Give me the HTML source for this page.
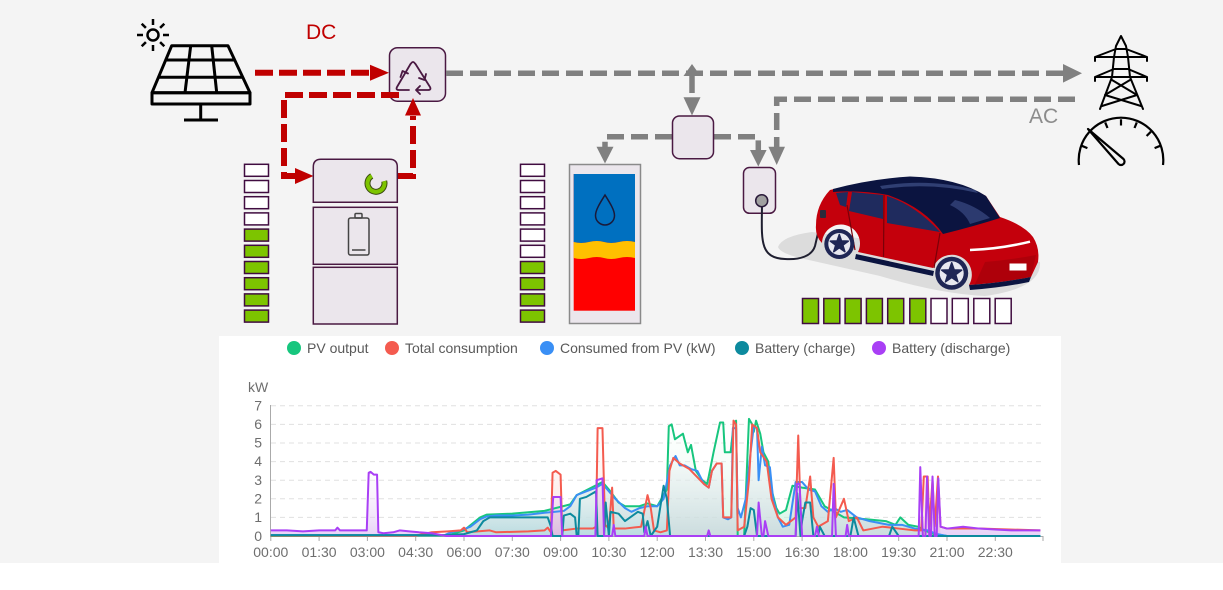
<!DOCTYPE html>
<html><head><meta charset="utf-8"><style>
html,body{margin:0;padding:0;background:#fff;}
body{width:1223px;height:590px;overflow:hidden;}
svg{display:block;font-family:"Liberation Sans",sans-serif;}
</style></head><body>
<svg width="1223" height="590" viewBox="0 0 1223 590" xmlns="http://www.w3.org/2000/svg">
<defs>
<linearGradient id="gb" x1="0" y1="0" x2="0" y2="1"><stop offset="0" stop-color="#c8d2dc" stop-opacity="0.7"/><stop offset="1" stop-color="#ffffff" stop-opacity="0.2"/></linearGradient>
<linearGradient id="gp" x1="0" y1="0" x2="0" y2="1"><stop offset="0" stop-color="#d9b3f2" stop-opacity="0.6"/><stop offset="1" stop-color="#ffffff" stop-opacity="0.2"/></linearGradient>
<linearGradient id="gr" x1="0" y1="0" x2="0" y2="1"><stop offset="0" stop-color="#f7b3ad" stop-opacity="0.5"/><stop offset="1" stop-color="#ffffff" stop-opacity="0.2"/></linearGradient>
<linearGradient id="gg" x1="0" y1="0" x2="0" y2="1"><stop offset="0" stop-color="#b8ecd2" stop-opacity="0.6"/><stop offset="1" stop-color="#ffffff" stop-opacity="0.2"/></linearGradient>
<linearGradient id="gt" x1="0" y1="0" x2="0" y2="1"><stop offset="0" stop-color="#a8dbe2" stop-opacity="0.5"/><stop offset="1" stop-color="#ffffff" stop-opacity="0.2"/></linearGradient>
</defs>
<rect x="0" y="0" width="1223" height="563" fill="#f4f4f4"/>

<!-- Sun -->
<g stroke="#000" stroke-width="2.5" fill="none" stroke-linecap="butt">
<circle cx="153" cy="35" r="5.5"/>
<line x1="153" y1="19" x2="153" y2="25"/><line x1="153" y1="45" x2="153" y2="51"/>
<line x1="137" y1="35" x2="143" y2="35"/><line x1="163" y1="35" x2="169" y2="35"/>
<line x1="141.7" y1="23.7" x2="145.9" y2="27.9"/><line x1="160.1" y1="42.1" x2="164.3" y2="46.3"/>
<line x1="164.3" y1="23.7" x2="160.1" y2="27.9"/><line x1="145.9" y1="42.1" x2="141.7" y2="46.3"/>
</g>
<!-- Solar panel -->
<g stroke="#000" stroke-width="3" fill="none" stroke-linejoin="round">
<path d="M171.7,45.7 L228,45.7 L250,92.7 L152,92.7 Z"/>
<line x1="165.7" y1="60" x2="234.7" y2="60"/>
<line x1="158.5" y1="77.3" x2="242.8" y2="77.3"/>
<line x1="190.7" y1="45.7" x2="185" y2="92.7"/>
<line x1="211.7" y1="45.7" x2="216.7" y2="92.7"/>
<rect x="152" y="92.7" width="98" height="11.3"/>
<line x1="200.7" y1="104" x2="200.7" y2="120"/>
<line x1="184" y1="120" x2="218" y2="120"/>
</g>
<text x="306" y="39" font-size="21" fill="#c00000">DC</text>

<!-- Inverter -->
<rect x="389.5" y="47.7" width="56" height="53.5" rx="8" fill="#ebe6ec" stroke="#4a1942" stroke-width="1.5"/>
<g stroke="#4a1942" stroke-width="1.8" fill="none" stroke-linecap="round" stroke-linejoin="round">
<path d="M410.5,64 L397,87 Q395.5,90 399,90 L409,90"/>
<path d="M415.5,64 L430,87 Q431.5,90 428,90 L417,90"/>
<path d="M411,63.5 Q413,60.5 415,63.5"/>
<path d="M400.5,77 L402.5,71 L408,73.5"/>
<path d="M419,78 L424.5,80 L426,74"/>
<path d="M420,86 L416,90 L420,94"/>
</g>

<!-- Red DC connectors -->
<g stroke="#c00000" stroke-width="6" fill="none" stroke-dasharray="18 6">
<path d="M255,72.7 L372,72.7"/>
<path d="M399,95 L284,95 L284,176 L297,176"/>
<path d="M397,176 L413,176 L413,116"/>
</g>
<g fill="#c00000">
<polygon points="370,64.7 389,72.7 370,80.7"/>
<polygon points="295,168 313.5,176 295,184"/>
<polygon points="405,115.5 413,98 421,115.5"/>
</g>

<!-- Battery stack -->
<path d="M313.3,202.3 L313.3,167 Q313.3,159.3 321,159.3 L389.5,159.3 Q397.3,159.3 397.3,167 L397.3,202.3 Z" fill="#ebe6ec" stroke="#4a1942" stroke-width="1.5"/>
<path d="M371.75,175.94 A8.5,8.5 0 1 0 384.2,181.1" fill="none" stroke="#3a4a10" stroke-width="6" stroke-linecap="butt"/>
<path d="M371.75,175.94 A8.5,8.5 0 1 0 384.2,181.1" fill="none" stroke="#7dc400" stroke-width="4" stroke-linecap="butt"/>
<rect x="313.3" y="207.3" width="84" height="57" fill="#ebe6ec" stroke="#4a1942" stroke-width="1.5"/>
<g stroke="#444" stroke-width="1.5" fill="none">
<rect x="348.5" y="218" width="20.5" height="37" rx="2"/>
<rect x="355" y="213.5" width="7" height="4.5" rx="1"/>
<line x1="352" y1="250" x2="365.5" y2="250"/>
</g>
<rect x="313.3" y="267.3" width="84" height="56.7" fill="#ebe6ec" stroke="#4a1942" stroke-width="1.5"/>

<!-- Level bars battery -->
<g stroke="#400c40" stroke-width="1.5">
<rect x="244.5" y="164.3" width="24" height="12" fill="#fff"/>
<rect x="244.5" y="180.5" width="24" height="12" fill="#fff"/>
<rect x="244.5" y="196.7" width="24" height="12" fill="#fff"/>
<rect x="244.5" y="212.9" width="24" height="12" fill="#fff"/>
<rect x="244.5" y="229.1" width="24" height="12" fill="#7dc400"/>
<rect x="244.5" y="245.3" width="24" height="12" fill="#7dc400"/>
<rect x="244.5" y="261.5" width="24" height="12" fill="#7dc400"/>
<rect x="244.5" y="277.7" width="24" height="12" fill="#7dc400"/>
<rect x="244.5" y="293.9" width="24" height="12" fill="#7dc400"/>
<rect x="244.5" y="310.1" width="24" height="12" fill="#7dc400"/>
</g>
<!-- Level bars tank -->
<g stroke="#400c40" stroke-width="1.5">
<rect x="520.5" y="164.3" width="24" height="12" fill="#fff"/>
<rect x="520.5" y="180.5" width="24" height="12" fill="#fff"/>
<rect x="520.5" y="196.7" width="24" height="12" fill="#fff"/>
<rect x="520.5" y="212.9" width="24" height="12" fill="#fff"/>
<rect x="520.5" y="229.1" width="24" height="12" fill="#fff"/>
<rect x="520.5" y="245.3" width="24" height="12" fill="#fff"/>
<rect x="520.5" y="261.5" width="24" height="12" fill="#7dc400"/>
<rect x="520.5" y="277.7" width="24" height="12" fill="#7dc400"/>
<rect x="520.5" y="293.9" width="24" height="12" fill="#7dc400"/>
<rect x="520.5" y="310.1" width="24" height="12" fill="#7dc400"/>
</g>

<!-- Tank -->
<rect x="569.5" y="164.5" width="71" height="159" fill="#ebe6ec" stroke="#8a8a8a" stroke-width="1.5"/>
<rect x="573.7" y="174" width="61.3" height="136.7" fill="#ff0000"/>
<path d="M573.7,174 L635,174 L635,242 Q627,240 619,242 T604,242 T589,242 T573.7,242 Z" fill="#0070c0"/>
<path d="M573.7,242 Q581,244 589,242 T604,242 T619,242 T635,242 L635,258 Q627,256 619,258 T604,258 T589,258 T573.7,258 Z" fill="#ffc000"/>
<path d="M605,195 C600,203 595.5,210 595.5,215.5 A9.5,9.5 0 0 0 614.5,215.5 C614.5,210 610,203 605,195 Z" fill="none" stroke="#1a1a3a" stroke-width="1.5"/>

<!-- Gray AC connectors -->
<g stroke="#808080" stroke-width="5.5" fill="none" stroke-dasharray="17 7">
<path d="M446,73.3 L1064,73.3"/>
<path d="M692,76 L692,98"/>
<path d="M672,136.7 L605,136.7 L605,147"/>
<path d="M714,136.7 L758.3,136.7 L758.3,150"/>
<path d="M1075,99.3 L776.7,99.3 L776.7,147"/>
</g>
<g fill="#808080">
<polygon points="1063,64 1082,73.3 1063,82.6"/>
<polygon points="683.5,76 692,64 700.5,76"/>
<polygon points="683.5,97.3 692,115.5 700.5,97.3"/>
<polygon points="596.5,146.7 605,163.5 613.5,146.7"/>
<polygon points="750,150 758.3,166.5 766.6,150"/>
<polygon points="768.4,146.7 776.7,165 785,146.7"/>
</g>
<text x="1029" y="123" font-size="21" fill="#8c8c8c">AC</text>

<!-- Distributor box -->
<rect x="672.5" y="116" width="41" height="42.7" rx="7" fill="#ebe6ec" stroke="#4a1942" stroke-width="1.5"/>
<!-- Charger -->
<rect x="743.5" y="167.5" width="32" height="45.8" rx="6" fill="#ebe6ec" stroke="#4a1942" stroke-width="1.5"/>

<!-- Pylon -->
<g stroke="#000" stroke-width="2" fill="none" stroke-linejoin="round" stroke-linecap="round">
<path d="M1100,109 L1112,77 L1114,57 L1116,46 L1121,36 L1126,46 L1128,57 L1130,77 L1143,109"/>
<path d="M1095,61 L1095,57 L1147,57 L1147,61 M1095,57 L1116,49 L1126,49 L1147,57"/>
<path d="M1095,81 L1095,77 L1147,77 L1147,81 M1095,77 L1114,69 L1128,69 L1147,77"/>
<path d="M1112,80 L1137,95 M1130,80 L1105,95 M1105,95 L1141,106 M1137,95 L1102,106"/>
</g>
<!-- Gauge -->
<g stroke="#000" stroke-width="2.2" fill="none" stroke-linecap="butt">
<path d="M1079,165 A42.3,42.3 0 1 1 1163,165"/>
<line x1="1121" y1="119.3" x2="1121" y2="125.5"/>
<line x1="1105.2" y1="122.4" x2="1107.5" y2="128"/>
<line x1="1136.8" y1="122.4" x2="1134.5" y2="128"/>
<line x1="1150.9" y1="131.7" x2="1146.6" y2="136"/>
<line x1="1160.2" y1="145.8" x2="1154.6" y2="148.1"/>
<line x1="1081.8" y1="145.8" x2="1087.4" y2="148.1"/>
<path d="M1088,129 L1123.5,159 A3.5,3.5 0 1 1 1118.5,164 Z" stroke-linejoin="round"/>
</g>

<!-- Car -->
<path d="M778,247 Q782,236 812,232 L1040,262 Q1042,288 985,296 Q940,294 880,276 L800,258 Q780,253 778,247 Z" fill="#dcdcdc"/>
<path d="M762,201 C762,238 758,258 785,259 C800,260 812,256 815,246 L822,216" fill="none" stroke="#1f1f30" stroke-width="2"/>
<circle cx="761.7" cy="200.7" r="6" fill="#a0a0a0" stroke="#2a1a3a" stroke-width="1.5"/>
<!-- body -->
<path d="M830,190 Q870,180 910,177.5 Q958,179 986,196 L1000,217 Q1024,225 1033,237 Q1040,248 1038,262 L1031,277 Q1000,283 969,285 A20,20 0 1 0 933,268 L858,252 A19,19 0 1 0 822,243 Q815,236 816,225 Q816,205 830,190 Z" fill="#c4000c"/>
<path d="M985,262 Q1010,260 1036,255 L1031,277 Q1000,283 975,284 Z" fill="#a0000a" opacity="0.6"/>
<path d="M856,254 L934,271 L933,276 L855,259 Z" fill="#0b1440"/>
<path d="M969,285 Q1000,283 1031,277 L1029,282 Q1000,288 970,290 Z" fill="#0b1440"/>
<!-- roof & windshield -->
<path d="M833,189 Q870,179 910,176.5 Q958,178 986,196 L1000,218 Q975,226 943,234 Q925,208 888,195 Q860,190 833,192 Z" fill="#0b1440"/>
<path d="M880,186 Q930,178 975,190 L978,193 Q930,182 882,189 Z" fill="#3a4a80" opacity="0.8"/>
<path d="M955,200 Q975,205 990,218 L970,224 Q965,212 950,205 Z" fill="#34447a" opacity="0.8"/>
<path d="M836,193 L848,192 L846,207 L840,205 Z" fill="#1f2b5e"/>
<path d="M852,192 L883,195 L883,219 L849,211 Z" fill="#1f2b5e"/>
<path d="M887,196 Q915,205 940,232 L887,223 Z" fill="#1f2b5e"/>
<g stroke="#7a0008" stroke-width="1.2" fill="none">
<line x1="884" y1="195" x2="883.5" y2="257"/>
<line x1="940" y1="233" x2="934" y2="268"/>
<line x1="847" y1="205" x2="855" y2="250"/>
</g>
<path d="M970,250 Q1000,249 1030,241.7" fill="none" stroke="#ffffff" stroke-width="2.5"/>
<rect x="1009.5" y="263.5" width="17" height="7" fill="#fff"/>
<rect x="820" y="210" width="6" height="8" rx="1" fill="#2a2a3a"/>
<!-- wheels -->
<circle cx="839.3" cy="244" r="15" fill="#1f2655"/>
<circle cx="839.3" cy="244" r="11" fill="#e8e8f0"/>
<polygon points="839.3,234.5 841.5,240.9 848.3,241.1 842.9,245.2 844.9,251.7 839.3,247.8 833.7,251.7 835.7,245.2 830.3,241.1 837.1,240.9" fill="#1f2655" stroke="#1f2655" stroke-width="1.5" stroke-linejoin="round"/>
<circle cx="951.7" cy="273.3" r="16.5" fill="#1f2655"/>
<circle cx="951.7" cy="273.3" r="12" fill="#e8e8f0"/>
<polygon points="951.7,262.8 954.2,269.9 961.7,270.1 955.7,274.6 957.9,281.8 951.7,277.5 945.5,281.8 947.7,274.6 941.7,270.1 949.2,269.9" fill="#1f2655" stroke="#1f2655" stroke-width="1.5" stroke-linejoin="round"/>

<!-- EV level bars -->
<g stroke="#400c40" stroke-width="1.5">
<rect x="802.5" y="298.5" width="16" height="25" fill="#7dc400"/>
<rect x="823.8" y="298.5" width="16" height="25" fill="#7dc400"/>
<rect x="845.1" y="298.5" width="16" height="25" fill="#7dc400"/>
<rect x="866.4" y="298.5" width="16" height="25" fill="#7dc400"/>
<rect x="887.7" y="298.5" width="16" height="25" fill="#7dc400"/>
<rect x="909.8" y="298.5" width="16" height="25" fill="#7dc400"/>
<rect x="931" y="298.5" width="16" height="25" fill="#fff"/>
<rect x="952.3" y="298.5" width="16" height="25" fill="#fff"/>
<rect x="973.8" y="298.5" width="16" height="25" fill="#fff"/>
<rect x="995.2" y="298.5" width="16" height="25" fill="#fff"/>
</g>

<!-- Chart -->
<rect x="219" y="336" width="842" height="227" fill="#ffffff"/>
<g font-size="14" fill="#595959">
<circle cx="294" cy="348" r="7" fill="#17c67e"/><text x="307" y="353">PV output</text>
<circle cx="392" cy="348" r="7" fill="#f45b4f"/><text x="405" y="353">Total consumption</text>
<circle cx="547" cy="348" r="7" fill="#3a8ff5"/><text x="560" y="353">Consumed from PV (kW)</text>
<circle cx="742" cy="348" r="7" fill="#0d8a9e"/><text x="755" y="353">Battery (charge)</text>
<circle cx="879" cy="348" r="7" fill="#a93ff5"/><text x="892" y="353">Battery (discharge)</text>
</g>
<g stroke="#e0e0e0" stroke-width="1" stroke-dasharray="5 4">
<line x1="271" y1="405.8" x2="1043" y2="405.8"/>
<line x1="271" y1="424.4" x2="1043" y2="424.4"/>
<line x1="271" y1="443" x2="1043" y2="443"/>
<line x1="271" y1="461.6" x2="1043" y2="461.6"/>
<line x1="271" y1="480.2" x2="1043" y2="480.2"/>
<line x1="271" y1="498.8" x2="1043" y2="498.8"/>
<line x1="271" y1="517.4" x2="1043" y2="517.4"/>
</g>
<line x1="270.5" y1="405" x2="270.5" y2="536" stroke="#aaa" stroke-width="1"/>
<line x1="270" y1="536.5" x2="1043" y2="536.5" stroke="#aaa" stroke-width="1"/>
<g stroke="#aaa" stroke-width="1">
<line x1="270.8" y1="536" x2="270.8" y2="541"/><line x1="319.1" y1="536" x2="319.1" y2="541"/><line x1="367.4" y1="536" x2="367.4" y2="541"/><line x1="415.7" y1="536" x2="415.7" y2="541"/><line x1="464" y1="536" x2="464" y2="541"/><line x1="512.3" y1="536" x2="512.3" y2="541"/><line x1="560.6" y1="536" x2="560.6" y2="541"/><line x1="608.9" y1="536" x2="608.9" y2="541"/><line x1="657.2" y1="536" x2="657.2" y2="541"/><line x1="705.5" y1="536" x2="705.5" y2="541"/><line x1="753.8" y1="536" x2="753.8" y2="541"/><line x1="802.1" y1="536" x2="802.1" y2="541"/><line x1="850.4" y1="536" x2="850.4" y2="541"/><line x1="898.7" y1="536" x2="898.7" y2="541"/><line x1="947" y1="536" x2="947" y2="541"/><line x1="995.3" y1="536" x2="995.3" y2="541"/><line x1="1043" y1="536" x2="1043" y2="541"/>
</g>
<g font-size="14" fill="#6e6e6e">
<text x="248" y="392">kW</text>
<g text-anchor="end">
<text x="262" y="410.5">7</text><text x="262" y="429">6</text><text x="262" y="447.5">5</text><text x="262" y="466">4</text><text x="262" y="485">3</text><text x="262" y="503.5">2</text><text x="262" y="522">1</text><text x="262" y="541">0</text>
</g>
<g text-anchor="middle">
<text x="270.8" y="557">00:00</text><text x="319.1" y="557">01:30</text><text x="367.4" y="557">03:00</text><text x="415.7" y="557">04:30</text><text x="464" y="557">06:00</text><text x="512.3" y="557">07:30</text><text x="560.6" y="557">09:00</text><text x="608.9" y="557">10:30</text><text x="657.2" y="557">12:00</text><text x="705.5" y="557">13:30</text><text x="753.8" y="557">15:00</text><text x="802.1" y="557">16:30</text><text x="850.4" y="557">18:00</text><text x="898.7" y="557">19:30</text><text x="947" y="557">21:00</text><text x="995.3" y="557">22:30</text>
</g>
</g>

<g transform="translate(270.8 536) scale(32.2 -18.6)" fill="none" stroke-linejoin="round">
<polygon fill="url(#gg)" points="0,0 5.5,0.03 6,0.3 6.5,1 6.7,1.15 7.5,1.2 8.5,1.35 9.3,1.7 9.5,2.2 10.3,2.9 10.5,2.5 10.8,1.8 11,1.6 11.45,1.6 11.7,1.75 12,1.6 12.3,2.5 12.36,5.9 12.45,6 12.55,5.2 12.8,5.5 12.95,4.5 13.05,4.9 13.2,3.5 13.4,3 13.55,2.8 13.6,3.2 13.75,4.5 13.95,6.1 14.05,6.1 14.1,4.5 14.28,4.5 14.38,6.1 14.45,6.2 14.5,0 14.7,0 14.85,6.3 14.95,6 15,5.6 15.07,6.2 15.2,5.5 15.3,4.5 15.45,4 15.55,2.5 15.7,1.5 15.8,1.2 16,1.4 16.2,2.7 16.5,2.6 16.9,2.5 17.2,1.6 17.8,1 18.5,0.9 19.1,0.8 19.4,0.6 19.55,1 19.8,0.6 20.1,0.5 20.3,0.3 20.6,0.1 21,0 23.9,0"/>
<polygon fill="url(#gb)" points="0,0 5.4,0.05 5.6,0.2 5.9,0.3 6.2,0.5 6.5,0.9 6.7,1.05 7,1.1 7.5,1.1 8,1.15 8.5,1.25 8.8,1.3 9.1,1.35 9.3,1.6 9.5,2.2 9.8,2.4 10.1,2.6 10.3,2.8 10.45,2.5 10.7,2 11,1.5 11.2,1.3 11.45,1.5 11.7,1.6 12,1.6 12.2,2 12.4,3.8 12.57,4.3 12.7,3.8 12.85,3.8 13.05,3.6 13.25,3.5 13.45,2.8 13.6,2.6 13.7,3.5 13.85,3.9 14,3.9 14.05,1 14.2,0.9 14.3,1 14.35,5.8 14.45,5.8 14.5,1.5 14.6,1 14.75,2 14.9,4.5 15,5.9 15.1,5.8 15.15,3 15.25,4.8 15.35,3.8 15.5,3.7 15.6,2 15.75,1 15.9,0.5 16.1,0.6 16.3,2.9 16.5,2.9 16.7,2.5 16.9,2.4 17.1,1.6 17.3,1.3 17.5,1.5 17.7,1.3 17.9,1.4 18.2,1 18.6,0.8 19.2,0.6 19.6,0.6 20,0.4 20.4,0.3 20.7,0.1 21,0 23.9,0"/>
<polygon fill="url(#gr)" points="8.7,0 8.75,3.4 8.85,3.5 9,3.3 9.05,0 10.1,0 10.15,5.8 10.3,5.8 10.38,0 20.25,0 20.28,3.2 20.4,3.2 20.45,0 20.55,3 20.62,0 20.72,3.2 20.8,0"/>
<polygon fill="url(#gt)" points="6,0 6.4,0.3 6.6,0.8 6.8,1 7.5,1 8.6,1 8.7,0.5 8.75,0 9.05,0 9.1,1.1 9.3,1.2 9.45,1 9.5,0 9.6,2 9.8,2.1 10,2.3 10.1,2.4 10.15,0 10.4,1.8 10.5,0 10.55,1.3 10.8,1.2 11,0.8 11.4,1.3 11.55,1.2 11.6,0.2 11.7,0.8 11.8,0 12,0.5 12.2,2.7 12.3,2 12.4,0"/>
<polygon fill="url(#gp)" points="0,0 0,0.3 0.5,0.3 1,0.25 1.5,0.3 2,0.3 2.07,0.45 2.15,0.3 2.98,0.3 3.04,3.4 3.1,3.45 3.2,3.3 3.3,3.3 3.34,0.2 3.5,0.15 3.8,0.2 4,0.3 4.3,0.25 4.6,0.2 5,0.15 5.45,0 8.7,0 8.77,2.1 9,2.1 9.05,0 10.08,0 10.12,3 10.3,3.1 10.35,0 20.12,0 20.17,3.7 20.25,0 20.33,0 20.38,3.2 20.45,0 20.5,0 20.55,3.2 20.62,0 20.68,0 20.73,3.1 20.8,0.5 21,0.4 21.5,0.5 22,0.4 22.5,0.35 23,0.3 23.5,0.3 23.9,0.3 23.9,0"/>
<polyline vector-effect="non-scaling-stroke" stroke="#17c67e" stroke-width="2" points="0,0 5.5,0.03 6,0.3 6.5,1 6.7,1.15 7.5,1.2 8.5,1.35 9.3,1.7 9.5,2.2 10.3,2.9 10.5,2.5 10.8,1.8 11,1.6 11.45,1.6 11.7,1.75 12,1.6 12.3,2.5 12.36,5.9 12.45,6 12.55,5.2 12.8,5.5 12.95,4.5 13.05,4.9 13.2,3.5 13.4,3 13.55,2.8 13.6,3.2 13.75,4.5 13.95,6.1 14.05,6.1 14.1,4.5 14.28,4.5 14.38,6.1 14.45,6.2 14.5,0 14.7,0 14.85,6.3 14.95,6 15,5.6 15.07,6.2 15.2,5.5 15.3,4.5 15.45,4 15.55,2.5 15.7,1.5 15.8,1.2 16,1.4 16.2,2.7 16.5,2.6 16.9,2.5 17.2,1.6 17.8,1 18.5,0.9 19.1,0.8 19.4,0.6 19.55,1 19.8,0.6 20.1,0.5 20.3,0.3 20.6,0.1 21,0 23.9,0"/>
<polyline vector-effect="non-scaling-stroke" stroke="#3a8ff5" stroke-width="2" points="0,0.05 5.4,0.05 5.6,0.2 5.9,0.3 6.2,0.5 6.5,0.9 6.7,1.05 7,1.1 7.5,1.1 8,1.15 8.5,1.25 8.8,1.3 9.1,1.35 9.3,1.6 9.5,2.2 9.8,2.4 10.1,2.6 10.3,2.8 10.45,2.5 10.7,2 11,1.5 11.2,1.3 11.45,1.5 11.7,1.6 12,1.6 12.2,2 12.4,3.8 12.57,4.3 12.7,3.8 12.85,3.8 13.05,3.6 13.25,3.5 13.45,2.8 13.6,2.6 13.7,3.5 13.85,3.9 14,3.9 14.05,1 14.2,0.9 14.3,1 14.35,5.8 14.45,5.8 14.5,1.5 14.6,1 14.75,2 14.9,4.5 15,5.9 15.1,5.8 15.15,3 15.25,4.8 15.35,3.8 15.5,3.7 15.6,2 15.75,1 15.9,0.5 16.1,0.6 16.3,2.9 16.5,2.9 16.7,2.5 16.9,2.4 17.1,1.6 17.3,1.3 17.5,1.5 17.7,1.3 17.9,1.4 18.2,1 18.6,0.8 19.2,0.6 19.6,0.6 20,0.4 20.4,0.3 20.7,0.1 21,0 23.9,0"/>
<polyline vector-effect="non-scaling-stroke" stroke="#f45b4f" stroke-width="2" points="0,0.02 4.5,0.02 5,0.2 5.5,0.25 5.9,0.3 6,0.45 6.1,0.2 6.8,0.3 7,0.2 8,0.25 8.5,0.3 8.6,0.45 8.7,0.2 8.75,3.4 8.85,3.5 9,3.3 9.05,0.3 9.5,0.4 10,0.4 10.1,0.5 10.15,5.8 10.3,5.8 10.38,0.6 10.5,0.4 10.6,2.6 10.65,0.4 11,0.4 11.5,0.5 11.7,2.2 11.8,1.5 11.9,0.3 12.1,0.2 12.3,0.3 12.38,3.5 12.5,4.2 12.7,3.9 13,3.6 13.45,2.8 13.6,2.6 13.7,3.5 13.85,3.9 14,3.9 14.05,1 14.3,1 14.37,6.2 14.45,6 14.5,0.3 14.7,0.5 14.85,3 14.95,6 15.1,5.8 15.2,4.5 15.4,4 15.55,2 15.75,1 16,0.6 16.3,1 16.38,5.4 16.45,1.5 16.6,1.5 16.75,3.2 16.85,1 17,0.5 17.3,0.8 17.48,4.2 17.55,1 17.8,2 17.95,0.8 18.2,1 18.4,0.3 19,0.5 19.5,0.4 20,0.3 20.2,0.3 20.28,3.2 20.4,3.2 20.45,0.5 20.55,3 20.62,0.5 20.72,3.2 20.8,0.5 21,0.4 22,0.4 23.9,0.3"/>
<polyline vector-effect="non-scaling-stroke" stroke="#0d8a9e" stroke-width="2" points="0,0.05 5.5,0.05 6,0.1 6.4,0.3 6.6,0.8 6.8,1 7.5,1 8.5,1 8.6,1 8.7,0.5 8.75,0 9.05,0 9.1,1.1 9.3,1.2 9.45,1 9.5,0 9.55,0 9.6,2 9.8,2.1 10,2.3 10.1,2.4 10.15,0 10.35,0 10.4,1.8 10.5,0 10.55,1.3 10.8,1.2 11,0.8 11.4,1.3 11.55,1.2 11.6,0.2 11.7,0.8 11.8,0 12,0.5 12.2,2.7 12.3,2 12.4,0 14.7,0 14.8,0.5 14.9,1.5 15,1.4 15.1,0 16.3,0 16.35,2.3 16.45,0 16.5,0.8 16.6,1.8 16.75,1.8 16.85,0 17,0 17.05,0.5 17.2,0 18,0 18.1,1 18.25,0 19.2,0 19.3,0.5 19.5,0 23.9,0"/>
<polyline vector-effect="non-scaling-stroke" stroke="#a93ff5" stroke-width="2" points="0,0.3 0.5,0.3 1,0.25 1.5,0.3 2,0.3 2.07,0.45 2.15,0.3 2.98,0.3 3.04,3.4 3.1,3.45 3.2,3.3 3.3,3.3 3.34,0.2 3.5,0.15 3.8,0.2 4,0.3 4.3,0.25 4.6,0.2 5,0.15 5.45,0 8.7,0 8.77,2.1 9,2.1 9.05,0 10.08,0 10.12,3 10.3,3.1 10.35,0 10.6,0 10.65,0.6 10.7,0 11.6,0 11.64,0.5 11.7,0 13.55,0 13.6,0.3 13.65,0 15.1,0 15.15,1.8 15.25,0 15.3,0 15.35,0.8 15.45,0 16.3,0 16.34,2.8 16.42,2.8 16.5,0 16.9,0 16.96,0.5 17.02,0 17.43,0 17.48,2.8 17.55,0 17.85,0 17.9,0.6 17.95,0 20.12,0 20.17,3.7 20.25,0 20.33,0 20.38,3.2 20.45,0 20.5,0 20.55,3.2 20.62,0 20.68,0 20.73,3.1 20.8,0.5 21,0.4 21.5,0.5 22,0.4 22.5,0.35 23,0.3 23.5,0.3 23.9,0.3"/>
</g>
</svg>
</body></html>
